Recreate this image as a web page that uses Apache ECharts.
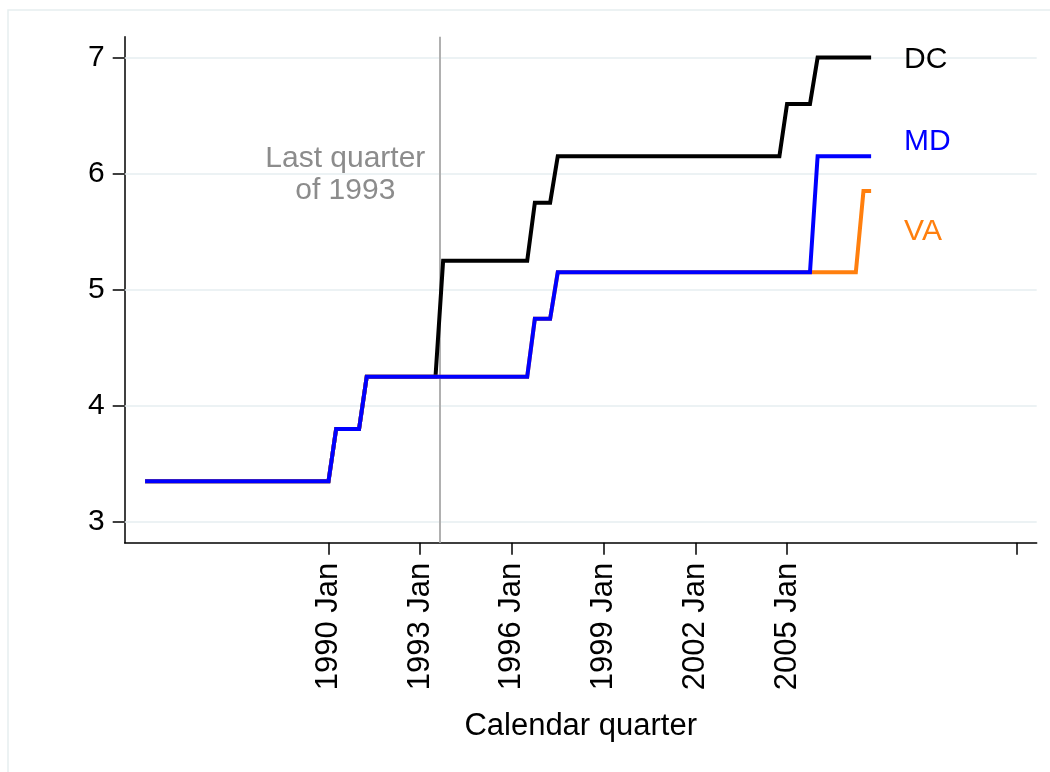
<!DOCTYPE html>
<html>
<head>
<meta charset="utf-8">
<style>
  html, body { margin: 0; padding: 0; background: #fff; }
  #chart { width: 1050px; height: 772px; }
</style>
<script src="https://cdn.jsdelivr.net/npm/echarts@6/dist/echarts.min.js"></script>
</head>
<body>
<div id="chart"></div>
<script>
// step vertices of the quarterly minimum wage series (month, dollars)
var dcDates = ['1984-01', '1990-01', '1990-04', '1991-01', '1991-04', '1993-07', '1993-10', '1996-07', '1996-10', '1997-04', '1997-07', '2004-10', '2005-01', '2005-10', '2006-01', '2007-10'];
var dcWage = [3.35, 3.35, 3.80, 3.80, 4.25, 4.25, 5.25, 5.25, 5.75, 5.75, 6.15, 6.15, 6.60, 6.60, 7.00, 7.00];
var mdDates = ['1984-01', '1990-01', '1990-04', '1991-01', '1991-04', '1996-07', '1996-10', '1997-04', '1997-07', '2005-10', '2006-01', '2007-10'];
var mdWage = [3.35, 3.35, 3.80, 3.80, 4.25, 4.25, 4.75, 4.75, 5.15, 5.15, 6.15, 6.15];
var vaDates = ['1984-01', '1990-01', '1990-04', '1991-01', '1991-04', '1996-07', '1996-10', '1997-04', '1997-07', '2007-04', '2007-07', '2007-10'];
var vaWage = [3.35, 3.35, 3.80, 3.80, 4.25, 4.25, 4.75, 4.75, 5.15, 5.15, 5.85, 5.85];

var tickYears = [1990, 1993, 1996, 1999, 2002, 2005];
var extraTick = '2012-07';
var yTicks = [3, 4, 5, 6, 7];
var xlineDate = '1993-08';
var xlineNote = 'Last quarter\nof 1993';

(function () {
  var font = 'Liberation Sans';
  var ink = '#000000';
  var gridCol = '#e6eef0';
  var grey = '#8c8c8c';

  function mi(s) {
    var p = s.split('-');
    return (+p[0] - 1960) * 12 + (+p[1] - 1);
  }

  var labelTicks = tickYears.map(function (y) { return mi(y + '-01'); });
  var allTicks = labelTicks.concat([mi(extraTick)]);
  var xline = mi(xlineDate) + 0.5;

  // series name is shown next to the last point only
  function lineSeries(name, dates, vals, color, dy) {
    var last = dates.length - 1;
    var data = dates.map(function (d, i) {
      var item = { value: [mi(d), vals[i]] };
      if (i === last) {
        item.label = {
          show: true,
          formatter: name,
          position: 'right',
          distance: 33,
          offset: [0, dy],
          color: color,
          fontFamily: font,
          fontSize: 30
        };
      }
      return item;
    });
    return {
      name: name,
      type: 'line',
      data: data,
      showSymbol: true,
      showAllSymbol: true,
      symbol: 'circle',
      symbolSize: 0.01,
      itemStyle: { color: color },
      z: 3,
      lineStyle: { color: color, width: 4, cap: 'butt', join: 'miter' },
      label: { show: false }
    };
  }

  var chart = echarts.init(document.getElementById('chart'));
  chart.setOption({
    animation: false,
    backgroundColor: '#ffffff',
    graphic: [{
      type: 'rect',
      shape: { x: 8, y: 10, width: 1100, height: 800 },
      style: { fill: 'none', stroke: gridCol, lineWidth: 1.5 },
      silent: true
    }],
    grid: { left: 124.7, right: 13.3, top: 36.7, bottom: 229.3 },
    xAxis: {
      type: 'value',
      min: mi('1983-05'),
      max: mi('2013-03'),
      name: 'Calendar quarter',
      nameLocation: 'middle',
      nameGap: 168,
      nameTextStyle: { color: ink, fontFamily: font, fontSize: 31 },
      axisLine: { show: true, lineStyle: { color: ink, width: 1.5 } },
      axisTick: { show: true, length: 12, customValues: allTicks, lineStyle: { color: ink, width: 1.5 } },
      axisLabel: {
        customValues: labelTicks,
        rotate: 90,
        margin: 20,
        color: ink,
        fontFamily: font,
        fontSize: 31,
        formatter: function (v) { return (1960 + Math.floor(v / 12)) + ' Jan'; }
      },
      splitLine: { show: false }
    },
    yAxis: {
      type: 'value',
      min: 2.82,
      max: 7.18,
      axisLine: { show: true, lineStyle: { color: ink, width: 1.5 } },
      axisTick: { show: true, length: 12, customValues: yTicks, lineStyle: { color: ink, width: 1.5 } },
      axisLabel: {
        customValues: yTicks,
        margin: 20,
        color: ink,
        fontFamily: font,
        fontSize: 30
      },
      splitLine: { show: false }
    },
    series: [
      {
        type: 'line',
        data: [],
        silent: true,
        z: 1,
        markLine: {
          silent: true,
          z: 1,
          symbol: 'none',
          label: { show: false },
          lineStyle: { color: gridCol, width: 1.5, type: 'solid' },
          data: yTicks.map(function (v) { return { yAxis: v }; }).concat([
            { xAxis: xline, lineStyle: { color: '#b0b0b0', width: 2, type: 'solid' } }
          ])
        },
        markPoint: {
          silent: true,
          z: 1,
          symbol: 'circle',
          symbolSize: 0,
          data: [{
            coord: [xline, 6],
            label: {
              show: true,
              formatter: xlineNote,
              position: 'inside',
              offset: [-94, 1],
              align: 'center',
              color: grey,
              fontFamily: font,
              fontSize: 30,
              lineHeight: 32
            }
          }]
        }
      },
      lineSeries('DC', dcDates, dcWage, '#000000', 2),
      lineSeries('VA', vaDates, vaWage, '#ff7f0e', 41),
      lineSeries('MD', mdDates, mdWage, '#0000ff', -15)
    ]
  });
})();
</script>
</body>
</html>
